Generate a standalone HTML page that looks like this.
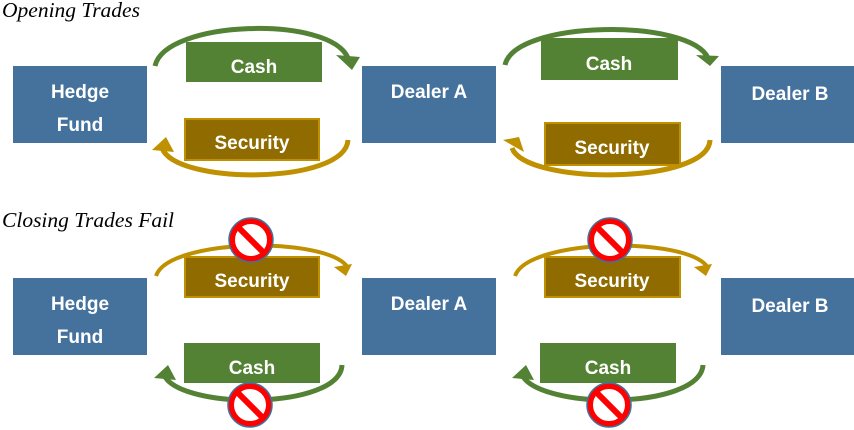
<!DOCTYPE html>
<html><head><style>
body{margin:0;background:#fff;width:854px;height:430px;overflow:hidden}
svg{display:block}
.t{font-family:"Liberation Sans",sans-serif;font-weight:bold;fill:#fff;font-size:19px;text-anchor:middle}
.h{font-family:"Liberation Serif",serif;font-style:italic;font-size:21.5px;fill:#000}
</style></head><body>
<svg width="854" height="430" viewBox="0 0 854 430">
<defs>
<g id="no">
<circle r="19" fill="#fff" stroke="#ff0000" stroke-width="6"/>
<circle r="22" fill="none" stroke="#41719c" stroke-width="1.5"/>
<line x1="-12" y1="-12" x2="12" y2="12" stroke="#ff0000" stroke-width="6"/>
</g>
</defs>
<text class="h" x="2" y="17">Opening Trades</text>
<text class="h" x="2" y="227">Closing Trades Fail</text>

<rect x="13" y="66" width="134" height="77" fill="#44729d"/>
<text class="t" x="80" y="98">Hedge</text><text class="t" x="80" y="131">Fund</text>
<rect x="362" y="66" width="134" height="77" fill="#44729d"/>
<text class="t" x="429" y="98">Dealer A</text>
<rect x="721" y="66" width="133" height="77" fill="#44729d"/>
<text class="t" x="790" y="100">Dealer B</text>
<rect x="13" y="278" width="134" height="77" fill="#44729d"/>
<text class="t" x="80" y="310">Hedge</text><text class="t" x="80" y="343">Fund</text>
<rect x="362" y="278" width="134" height="77" fill="#44729d"/>
<text class="t" x="429" y="310">Dealer A</text>
<rect x="721" y="278" width="133" height="77" fill="#44729d"/>
<text class="t" x="790" y="312">Dealer B</text>

<path d="M155 66 C165 20 330 15 348 58" fill="none" stroke="#548235" stroke-width="5"/>
<polygon points="336,55 360,57 352,70" fill="#548235"/>
<rect x="186" y="42" width="136" height="40" fill="#548235"/>
<text class="t" x="254" y="73">Cash</text>
<path d="M348 140 C345 185 175 185 162 148" fill="none" stroke="#bf9000" stroke-width="5"/>
<polygon points="152,150 166,137 174,152" fill="#bf9000"/>
<rect x="185" y="119" width="134" height="41" fill="#8f6b00" stroke="#bf9000" stroke-width="2"/>
<text class="t" x="252" y="149">Security</text>

<path d="M505 65 C515 20 690 18 708 58" fill="none" stroke="#548235" stroke-width="5"/>
<polygon points="696,55 719,56 710,66" fill="#548235"/>
<rect x="541" y="38" width="137" height="42" fill="#548235"/>
<text class="t" x="609" y="70">Cash</text>
<path d="M710 140 C708 185 525 185 512 148" fill="none" stroke="#bf9000" stroke-width="5"/>
<polygon points="503,140 519,137 524,152" fill="#bf9000"/>
<rect x="545" y="123" width="135" height="42" fill="#8f6b00" stroke="#bf9000" stroke-width="2"/>
<text class="t" x="612" y="154">Security</text>

<path d="M156 276 C168 238 330 236 348 268" fill="none" stroke="#bf9000" stroke-width="4"/>
<polygon points="334,267 352,264 346,276" fill="#bf9000"/>
<rect x="185" y="257" width="134" height="40" fill="#8f6b00" stroke="#bf9000" stroke-width="2"/>
<text class="t" x="252" y="287">Security</text>
<path d="M342 365 C340 410 180 410 164 375" fill="none" stroke="#548235" stroke-width="5"/>
<polygon points="154,378 168,365 176,380" fill="#548235"/>
<rect x="184" y="343" width="136" height="40" fill="#548235"/>
<text class="t" x="252" y="374">Cash</text>
<use href="#no" x="251" y="240"/>
<use href="#no" x="250" y="405"/>

<path d="M515 276 C528 238 690 236 708 268" fill="none" stroke="#bf9000" stroke-width="4"/>
<polygon points="694,267 712,264 706,276" fill="#bf9000"/>
<rect x="545" y="257" width="135" height="40" fill="#8f6b00" stroke="#bf9000" stroke-width="2"/>
<text class="t" x="612" y="287">Security</text>
<path d="M703 365 C700 410 540 410 522 375" fill="none" stroke="#548235" stroke-width="5"/>
<polygon points="512,378 526,365 534,380" fill="#548235"/>
<rect x="540" y="343" width="136" height="40" fill="#548235"/>
<text class="t" x="608" y="374">Cash</text>
<use href="#no" x="610" y="240"/>
<use href="#no" x="609" y="405"/>
</svg>
</body></html>
